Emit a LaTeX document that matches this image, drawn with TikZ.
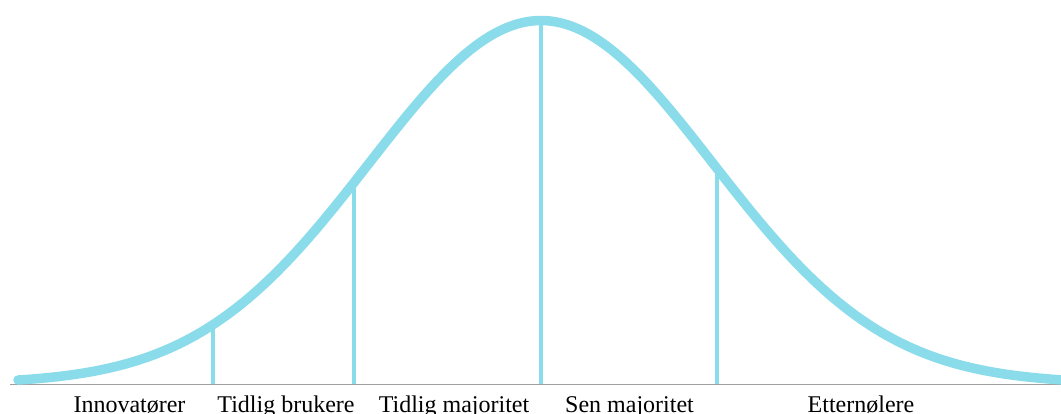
\documentclass[tikz,border=0pt]{standalone}
\usepackage{fontspec}
\setmainfont{Liberation Serif}
\definecolor{curvecol}{RGB}{138,220,234}
\definecolor{axiscol}{RGB}{160,160,160}
\tikzset{
  curveline/.style={draw=curvecol, line width=9.5pt, line cap=round},
  divider/.style={draw=curvecol, line width=3.5pt},
  axisline/.style={draw=axiscol, line width=1.5pt},
  lbl/.style={anchor=base, inner sep=0pt, font=\fontsize{24}{28}\selectfont},
}
\begin{document}
\begin{tikzpicture}[x=1pt,y=1pt]
\clip (0,0) rectangle (1061,414);
\fill[white] (0,0) rectangle (1061,414);
\newcommand{\gy}[1]{30.4+363*exp(-0.5*((#1-541)/172)^2)}
% baseline
\coordinate (axL) at (10,29.5);
\coordinate (axR) at (1061,29.5);
\draw[axisline] (axL) -- (axR);
% dividers
\foreach \xx/\nm in {213/a,354/b,541/c,717/d}{
  \pgfmathsetmacro{\yy}{\gy{\xx}}
  \coordinate (\nm0) at (\xx,29.5);
  \coordinate (\nm1) at (\xx,\yy);
  \draw[divider] (\nm0) -- (\nm1);
}
% curve
\draw[curveline] plot[domain=18:1070, samples=300] (\x,{\gy{\x}});
% labels
\node[lbl] (l1) at (129.5,1) {Innovatører};
\node[lbl] (l2) at (286,1) {Tidlig brukere};
\node[lbl] (l3) at (454,1) {Tidlig majoritet};
\node[lbl] (l4) at (629.5,1) {Sen majoritet};
\node[lbl] (l5) at (861,1) {Etternølere};
\end{tikzpicture}
\end{document}
